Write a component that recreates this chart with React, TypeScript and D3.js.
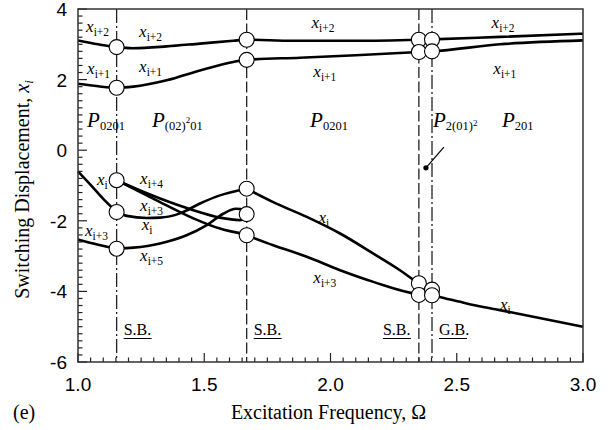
import * as d3 from 'd3'

// Excitation frequency Ω vs switching displacement x_i
const xDomain = [1.0, 3.0]
const yDomain = [-6, 4]
const xTickLabels = ['1.0', '1.5', '2.0', '2.5', '3.0']
const yTickLabels = ['-6', '-4', '-2', '0', '2', '4']

// bifurcation lines: [Ω, kind]
const bifurcations: [number, 'dashdot' | 'dash'][] = [
  [1.153, 'dashdot'],
  [1.668, 'dash'],
  [2.35, 'dash'],
  [2.402, 'dashdot'],
]
const bifLabels: [number, string][] = [
  [1.153, 'S.B.'],
  [1.668, 'S.B.'],
  [2.35, 'S.B.'],
  [2.402, 'G.B.'],
]

// branches, [Ω, x]
const upperTop: [number, number][] = [
  [1.0, 3.11], [1.08, 3.0], [1.153, 2.92], [1.219, 2.89], [1.351, 2.94], [1.483, 3.02],
  [1.615, 3.1], [1.668, 3.13], [1.85, 3.1], [2.1, 3.1], [2.35, 3.13], [2.402, 3.14],
  [2.671, 3.21], [3.0, 3.3],
]
const upperLow: [number, number][] = [
  [1.0, 1.88], [1.08, 1.81], [1.153, 1.77], [1.219, 1.8], [1.351, 1.98], [1.483, 2.26],
  [1.615, 2.5], [1.668, 2.56], [1.879, 2.62], [2.1, 2.69], [2.35, 2.78], [2.402, 2.8],
  [2.671, 3.0], [3.0, 3.11],
]
const leftXi: [number, number][] = [[1.0, -0.6], [1.05, -0.98], [1.1, -1.38], [1.153, -1.75]]
const leftXi3: [number, number][] = [[1.0, -2.53], [1.08, -2.68], [1.153, -2.79]]
const midXi3: [number, number][] = [
  [1.153, -1.75], [1.193, -1.86], [1.272, -1.92], [1.325, -1.91], [1.404, -1.79],
  [1.483, -1.51], [1.562, -1.28], [1.668, -1.09],
]
const midXi5: [number, number][] = [
  [1.153, -2.79], [1.219, -2.76], [1.325, -2.64], [1.43, -2.41], [1.51, -2.12],
  [1.575, -1.8], [1.625, -1.66], [1.668, -1.7],
]
const midXi4a: [number, number][] = [
  [1.153, -0.85], [1.325, -1.37], [1.457, -1.7], [1.562, -1.91], [1.64, -1.98], [1.668, -1.95],
]
const midXi4b: [number, number][] = [
  [1.153, -0.85], [1.325, -1.47], [1.457, -1.93], [1.562, -2.22], [1.668, -2.39],
]
const rightXi: [number, number][] = [
  [1.668, -1.09], [1.773, -1.47], [1.906, -1.89], [2.038, -2.36], [2.17, -2.93],
  [2.275, -3.4], [2.35, -3.77], [2.402, -3.95],
]
const rightXi3: [number, number][] = [
  [1.668, -2.41], [1.773, -2.69], [1.906, -3.02], [2.038, -3.4], [2.17, -3.73],
  [2.35, -4.08], [2.402, -4.11],
]
const tailXi: [number, number][] = [
  [2.402, -4.11], [2.427, -4.15], [2.539, -4.34], [2.671, -4.53], [2.803, -4.72], [3.0, -5.0],
]
const branches = [upperTop, upperLow, leftXi, leftXi3, midXi3, midXi5, midXi4a, midXi4b, rightXi, rightXi3, tailXi]

// bifurcation points
const points: [number, number][] = [
  [1.153, 2.92], [1.153, 1.77], [1.153, -0.85], [1.153, -1.75], [1.153, -2.79],
  [1.668, 3.13], [1.668, 2.56], [1.668, -1.09], [1.668, -1.81], [1.668, -2.41],
  [2.35, 3.13], [2.402, 3.13], [2.35, 2.78], [2.402, 2.8],
  [2.35, -3.77], [2.35, -4.1], [2.402, -3.95], [2.402, -4.11],
]

// curve labels: [Ω, x, subscript]
const curveLabels: [number, number, string][] = [
  [1.032, 3.34, 'i+2'], [1.242, 3.22, 'i+2'], [1.925, 3.45, 'i+2'], [2.638, 3.45, 'i+2'],
  [1.036, 2.15, 'i+1'], [1.242, 2.22, 'i+1'], [1.932, 2.08, 'i+1'], [2.645, 2.17, 'i+1'],
  [1.075, -0.99, 'i'], [1.246, -0.96, 'i+4'], [1.246, -1.72, 'i+3'], [1.252, -2.25, 'i'],
  [1.028, -2.44, 'i+3'], [1.246, -3.14, 'i+5'], [1.952, -2.05, 'i'], [1.932, -3.77, 'i+3'],
  [2.671, -4.53, 'i'],
]

// region labels: [Ω, x]
const regionPos: [number, number][] = [[1.036, 0.67], [1.293, 0.67], [1.919, 0.67], [2.406, 0.67], [2.679, 0.67]]

const W = 608
const H = 430
const margin = { left: 78, right: 25, top: 9, bottom: 68 }

export default function App() {
  const x = d3.scaleLinear().domain(xDomain).range([margin.left, W - margin.right])
  const y = d3.scaleLinear().domain(yDomain).range([H - margin.bottom, margin.top])
  const line = d3.line<[number, number]>()
    .x(d => x(d[0]))
    .y(d => y(d[1]))
    .curve(d3.curveMonotoneX)

  const xMinor = d3.range(0, 41).map(i => 1 + i * 0.05)
  const yMinor = d3.range(0, 51).map(i => -6 + i * 0.2)
  const serif = '"Liberation Serif", "Times New Roman", serif'
  const sans = '"Liberation Sans", Arial, sans-serif'

  const subLabel = (sub: string) => (
    <>
      <tspan fontStyle="italic" fontSize={17}>x</tspan>
      <tspan fontSize={11.5} dy={4}>{sub}</tspan>
    </>
  )

  const yBase = y(yDomain[0])

  return (
    <svg width={W} height={H} style={{ position: 'absolute', left: 0, top: 0, background: '#fff' }}>
      {/* bifurcation lines */}
      {bifurcations.map(([b, kind], i) => (
        <line key={i} x1={x(b)} x2={x(b)} y1={y(4)} y2={yBase}
          stroke="#222" strokeWidth={1.3}
          strokeDasharray={kind === 'dash' ? '11,3.5' : '14,3,2,3'} />
      ))}

      {/* ticks */}
      {xMinor.map((t, i) => {
        const major = i % 10 === 0
        return <line key={'xt' + i} x1={x(t)} x2={x(t)} y1={yBase} y2={yBase - (major ? 9 : 4.5)} stroke="#222" strokeWidth={1.2} />
      })}
      {yMinor.map((t, i) => {
        const major = i % 10 === 0
        return <line key={'yt' + i} x1={x(1)} x2={x(1) + (major ? 9 : 4.5)} y1={y(t)} y2={y(t)} stroke="#222" strokeWidth={1.2} />
      })}

      {/* branches */}
      {branches.map((b, i) => (
        <path key={'b' + i} d={line(b) ?? ''} fill="none" stroke="#000" strokeWidth={2.6} />
      ))}

      {/* points */}
      {points.map(([px, py], i) => (
        <circle key={'p' + i} cx={x(px)} cy={y(py)} r={7.5} fill="#fff" stroke="#000" strokeWidth={1.1} />
      ))}

      {/* frame */}
      <rect x={x(1)} y={y(4)} width={x(3) - x(1)} height={yBase - y(4)} fill="none" stroke="#333" strokeWidth={1.5} />

      {/* tick labels */}
      {xTickLabels.map(t => (
        <text key={'xl' + t} x={x(+t)} y={391} textAnchor="middle" fontFamily={sans} fontSize={19}>{t}</text>
      ))}
      {yTickLabels.map(t => (
        <text key={'yl' + t} x={x(1) - 11} y={y(+t) + 7} textAnchor="end" fontFamily={sans} fontSize={19}>{t}</text>
      ))}

      {/* axis titles */}
      <text x={x(2) - 2} y={419} textAnchor="middle" fontFamily={serif} fontSize={20}>Excitation Frequency, Ω</text>
      <text x={13} y={419} fontFamily={serif} fontSize={20}>(e)</text>
      <text transform={`translate(29, ${(y(4) + yBase) / 2 + 4}) rotate(-90)`} textAnchor="middle" fontFamily={serif} fontSize={20}>
        Switching Displacement, <tspan fontStyle="italic">x</tspan><tspan fontStyle="italic" fontSize={13} dy={4}>i</tspan>
      </text>

      {/* curve labels */}
      {curveLabels.map(([cx, cy, s], i) => (
        <text key={'cl' + i} x={x(cx)} y={y(cy)} fontFamily={serif}>{subLabel(s)}</text>
      ))}

      {/* region labels */}
      <g fontFamily={serif}>
        <text x={x(regionPos[0][0])} y={y(regionPos[0][1])}>
          <tspan fontStyle="italic" fontSize={21}>P</tspan><tspan fontSize={12.5} dy={3}>0201</tspan>
        </text>
        <text x={x(regionPos[1][0])} y={y(regionPos[1][1])}>
          <tspan fontStyle="italic" fontSize={21}>P</tspan><tspan fontSize={12.5} dy={3}>(02)</tspan>
          <tspan fontSize={9} dy={-7}>2</tspan><tspan fontSize={12.5} dy={7}>01</tspan>
        </text>
        <text x={x(regionPos[2][0])} y={y(regionPos[2][1])}>
          <tspan fontStyle="italic" fontSize={21}>P</tspan><tspan fontSize={12.5} dy={3}>0201</tspan>
        </text>
        <text x={x(regionPos[3][0])} y={y(regionPos[3][1])}>
          <tspan fontStyle="italic" fontSize={21}>P</tspan><tspan fontSize={12.5} dy={3}>2(01)</tspan>
          <tspan fontSize={9} dy={-4}>2</tspan>
        </text>
        <text x={x(regionPos[4][0])} y={y(regionPos[4][1])}>
          <tspan fontStyle="italic" fontSize={21}>P</tspan><tspan fontSize={12.5} dy={3}>201</tspan>
        </text>
      </g>

      {/* pointer to the narrow region */}
      <line x1={x(2.378)} y1={y(-0.5)} x2={x(2.449)} y2={y(0.09)} stroke="#000" strokeWidth={1.2} />
      <circle cx={x(2.378)} cy={y(-0.5)} r={2.6} fill="#000" />

      {/* bifurcation type labels */}
      {bifLabels.map(([b, s], i) => {
        const lx = x(b) + (i === 2 ? -36 : 7)
        return (
          <g key={'bl' + i}>
            <text x={lx} y={335} fontFamily={serif} fontSize={16}>{s}</text>
            <line x1={lx} x2={lx + 28} y1={338.5} y2={338.5} stroke="#000" strokeWidth={1} />
          </g>
        )
      })}
    </svg>
  )
}
